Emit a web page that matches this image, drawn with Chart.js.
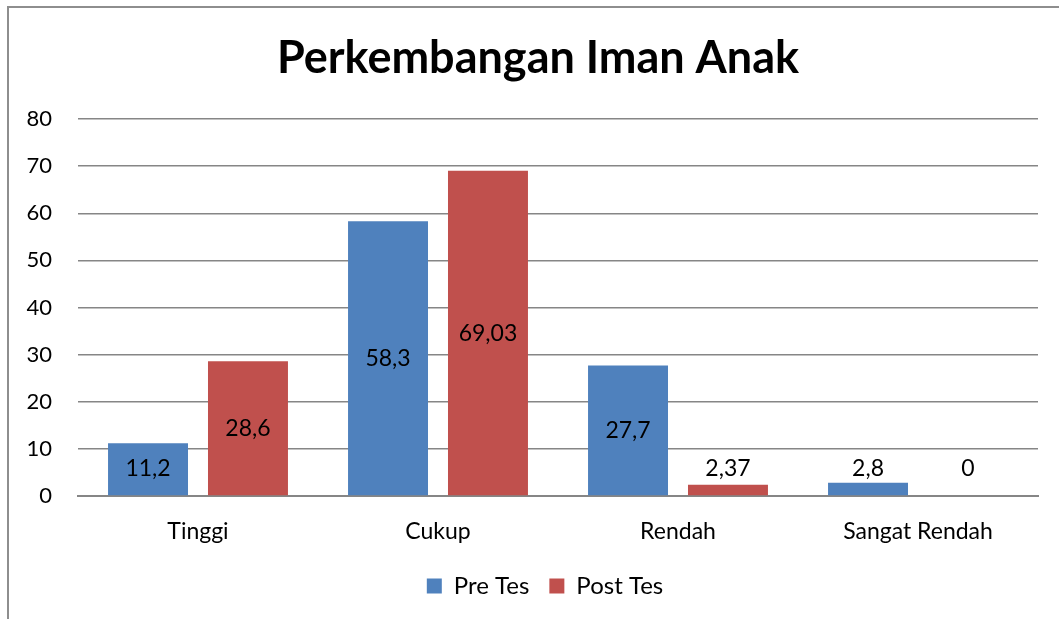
<!DOCTYPE html>
<html>
<head>
<meta charset="utf-8">
<script src="https://cdn.jsdelivr.net/npm/chart.js@4"></script>
<style>
  html, body { margin: 0; padding: 0; background: #fff; overflow: hidden; }
  #wrap { position: relative; width: 1059px; height: 619px; }
  #frame { position: absolute; left: 7px; top: 6px; width: 1200px; height: 800px;
           border-left: 2px solid #8e8e8e; border-top: 2px solid #8e8e8e; }
  canvas { position: absolute; left: 0; top: 0; }
</style>
</head>
<body>
<div id="wrap">
  <div id="frame"></div>
  <canvas id="chart" width="1059" height="619"></canvas>
</div>
<script>
const categories = ['Tinggi', 'Cukup', 'Rendah', 'Sangat Rendah'];
const preTes = [11.2, 58.3, 27.7, 2.8];
const postTes = [28.6, 69.03, 2.37, 0];
const yTicks = [0, 10, 20, 30, 40, 50, 60, 70, 80];

const fontFamily = 'Lato, "Open Sans", sans-serif';

// labels sit in the middle of the bar, or just above short bars
const barLabels = {
  id: 'barLabels',
  afterDatasetsDraw(chart) {
    const ctx = chart.ctx;
    const base = chart.scales.y.getPixelForValue(0);
    ctx.save();
    ctx.font = '23px ' + fontFamily;
    ctx.fillStyle = '#000';
    ctx.textAlign = 'center';
    ctx.textBaseline = 'middle';
    chart.data.datasets.forEach((ds, i) => {
      chart.getDatasetMeta(i).data.forEach((bar, j) => {
        let y = (bar.y + base) / 2;
        y = Math.min(y, base - 27);
        ctx.fillText(String(ds.data[j]).replace('.', ','), bar.x, y);
      });
    });
    ctx.restore();
  }
};

// title and legend are centred on the whole frame, not the plot; nudge them right
const nudge = {
  id: 'nudge',
  afterLayout(chart) {
    chart.titleBlock.left += 19;
    chart.titleBlock.right += 19;
    chart.legend.left += 26;
    chart.legend.right += 26;
  }
};

new Chart(document.getElementById('chart'), {
  type: 'bar',
  data: {
    labels: categories,
    datasets: [
      { label: 'Pre Tes', data: preTes, backgroundColor: '#4f81bd',
        categoryPercentage: 0.833, barPercentage: 0.8 },
      { label: 'Post Tes', data: postTes, backgroundColor: '#c0504d',
        categoryPercentage: 0.833, barPercentage: 0.8 }
    ]
  },
  options: {
    responsive: false,
    animation: false,
    layout: { padding: { left: 0, right: 21, top: 0, bottom: 11 } },
    plugins: {
      title: {
        display: true,
        text: 'Perkembangan Iman Anak',
        color: '#000',
        font: { family: fontFamily, size: 45, weight: 'bold' },
        padding: { top: 31, bottom: 34 }
      },
      legend: {
        position: 'bottom',
        labels: {
          color: '#000',
          font: { family: fontFamily, size: 24 },
          boxWidth: 15, boxHeight: 15,
          padding: 20
        }
      },
      tooltip: { enabled: false }
    },
    scales: {
      x: {
        afterFit(scale) { scale.height = 58; },
        grid: { display: false, drawTicks: false },
        border: { color: '#868686', width: 2 },
        ticks: { color: '#000', font: { family: fontFamily, size: 23 }, padding: 22 }
      },
      y: {
        min: 0, max: 80,
        afterFit(scale) { scale.width = 78; },
        afterBuildTicks(scale) { scale.ticks = yTicks.map(v => ({ value: v })); },
        grid: { color: '#868686', lineWidth: 1.5, drawTicks: false },
        border: { display: false },
        ticks: { color: '#000', font: { family: fontFamily, size: 22 }, padding: 26 }
      }
    }
  },
  plugins: [barLabels, nudge]
});
</script>
</body>
</html>
